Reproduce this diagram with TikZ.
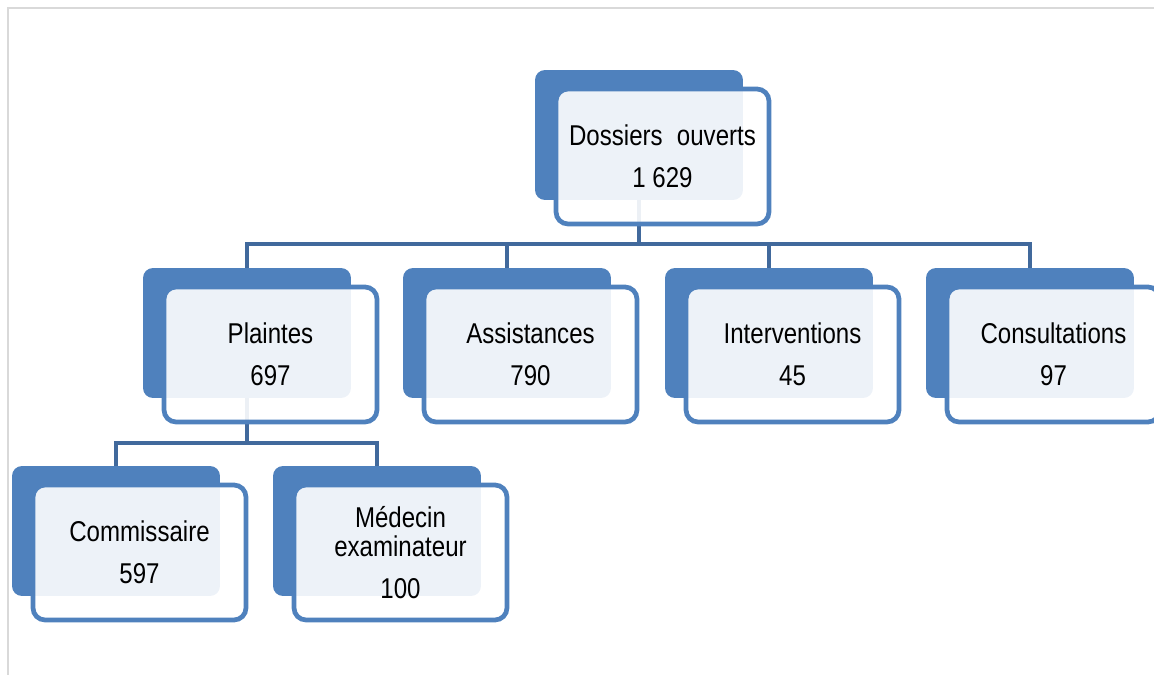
\documentclass[tikz,border=0pt]{standalone}
\usepackage{fontspec}
\setmainfont{Liberation Sans}[FakeStretch=0.84]

\definecolor{boxblue}{HTML}{4F81BD}
\definecolor{linkblue}{HTML}{41699C}
\definecolor{framegray}{HTML}{D9D9D9}

\begin{document}
\begin{tikzpicture}[x=0.02cm, y=-0.02cm,
    back/.style={fill=boxblue, rounded corners=0.2cm, minimum width=4.16cm, minimum height=2.6cm, inner sep=0pt, outer sep=0pt},
    front/.style={draw=boxblue, line width=2.7pt, fill=white, fill opacity=0.9, text opacity=1, rounded corners=0.24cm,
        minimum width=4.26cm, minimum height=2.7cm, inner sep=0pt, outer sep=0pt, align=center,
        font=\fontsize{16.3}{17}\selectfont},
    link/.style={draw=linkblue, line width=2.8pt}]
    \useasboundingbox (0,0) rectangle (1154,675);

    % Frame
    \draw[framegray, line width=1.1pt] (8,675) -- (8,8) -- (1154,8);

    % Back boxes
    \node[back] (root-bg) at (639,135) {};
    \node[back] (plaintes-bg) at (247,333) {};
    \node[back] (assist-bg) at (507,333) {};
    \node[back] (interv-bg) at (769,333) {};
    \node[back] (consult-bg) at (1030,333) {};
    \node[back] (commis-bg) at (116,531) {};
    \node[back] (medecin-bg) at (377,531) {};

    % Connectors
    \coordinate (bus) at (639,244);
    \coordinate (subbus) at (247,443);
    \foreach \n in {plaintes,assist,interv,consult}
        \draw[link] (root-bg.south) -- (bus) -| (\n-bg.north);
    \foreach \n in {commis,medecin}
        \draw[link] (plaintes-bg.south) -- (subbus) -| (\n-bg.north);

    % Front boxes
    \node[front] (root) at ([shift={(23.5,21.5)}]root-bg.center) {Dossiers\hspace{0.5em}ouverts\\[6.8pt]1 629};
    \node[front] (plaintes) at ([shift={(23.5,21.5)}]plaintes-bg.center) {Plaintes\\[6.8pt]697};
    \node[front] (assist) at ([shift={(23.5,21.5)}]assist-bg.center) {Assistances\\[6.8pt]790};
    \node[front] (interv) at ([shift={(23.5,21.5)}]interv-bg.center) {Interventions\\[6.8pt]45};
    \node[front] (consult) at ([shift={(23.5,21.5)}]consult-bg.center) {Consultations\\[6.8pt]97};
    \node[front] (commis) at ([shift={(23.5,21.5)}]commis-bg.center) {Commissaire\\[6.8pt]597};
    \node[front] (medecin) at ([shift={(23.5,21.5)}]medecin-bg.center) {Médecin\\examinateur\\[6.8pt]100};
\end{tikzpicture}
\end{document}
